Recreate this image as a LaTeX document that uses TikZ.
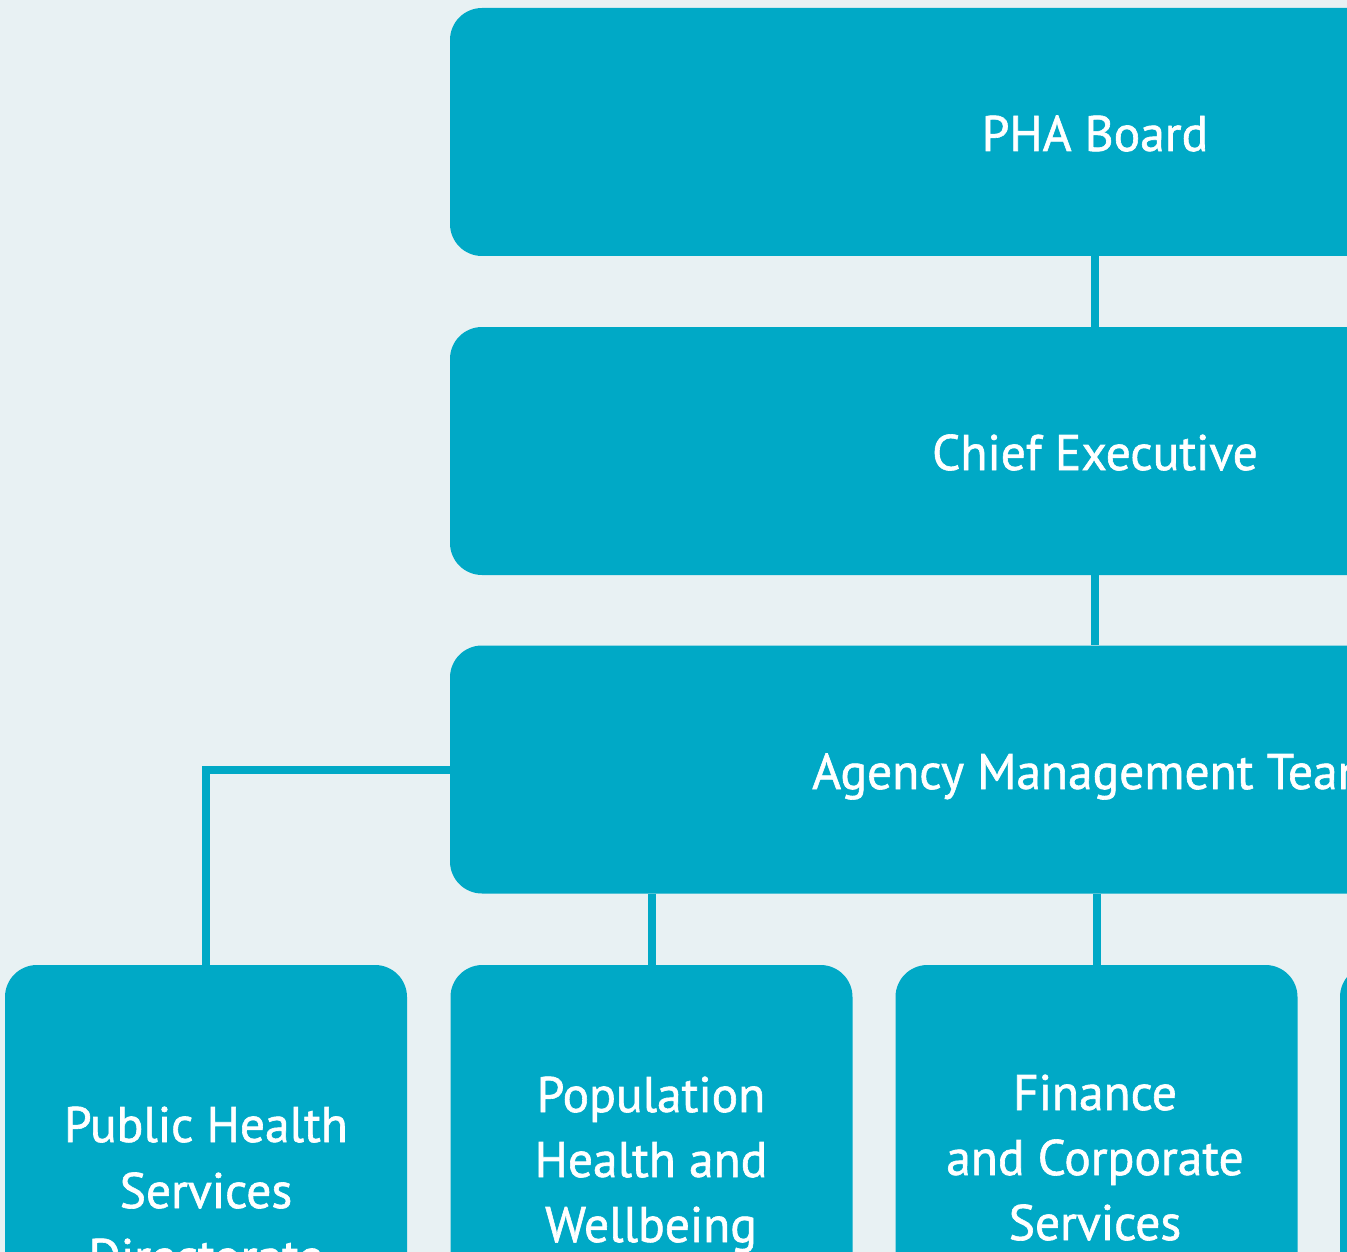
\documentclass[tikz,border=0pt]{standalone}
\usepackage{fontspec}
\setmainfont{PT Sans}[FakeStretch=0.99,FakeBold=1.2]
\definecolor{boxblue}{HTML}{00A9C6}
\definecolor{bgc}{HTML}{E8F1F3}
\begin{document}
\begin{tikzpicture}[x=1pt,y=-1pt,
  orgbox/.style={rectangle, fill=boxblue, draw=none, rounded corners=32pt,
                 inner sep=0pt, minimum width=#1},
  wide/.style={orgbox=1290pt, minimum height=248pt},
  unit/.style={orgbox=402pt, minimum height=540pt},
  lbl/.style={text=white, anchor=base, inner sep=0pt,
              font=\fontsize{50}{66}\selectfont},
  link/.style={draw=boxblue, line width=8pt}]
\useasboundingbox (0,0) rectangle (1347,1252);
\clip (0,0) rectangle (1347,1252);
\fill[bgc] (0,0) rectangle (1347,1252);

% main boxes
\node[wide] (board) at (1095,132) {};
\node[wide] (ceo)   at (1095,451) {};
\node[wide] (amt)   at (1095,769.5) {};

% directorate boxes
\node[unit] (phs) at (206,1235) {};
\node[unit] (phw) at (651.5,1235) {};
\node[unit] (fcs) at (1096.5,1235) {};
\node[unit] (nxt) at (1541,1235) {};

% connectors
\draw[link] (board.south) -- (ceo.north);
\draw[link] (ceo.south) -- (amt.north);
\draw[link] (amt.west) -| (phs.north);
\draw[link] (phw.north |- amt.south) -- (phw.north);
\draw[link] (fcs.north |- amt.south) -- (fcs.north);

% labels
\node[lbl] (tboard) at (1095,151) {PHA Board};
\node[lbl] (tceo)   at (1095,470) {Chief Executive};
\node[lbl] (tamt)   at (1095,789) {Agency Management Team};

\node[lbl] (tphs1) at (206,1142) {Public Health};
\node[lbl] (tphs2) at (206,1208) {Services};
\node[lbl] (tphs3) at (206,1274) {Directorate};

\node[lbl] (tphw1) at (651,1112) {Population};
\node[lbl] (tphw2) at (651,1177) {Health and};
\node[lbl] (tphw3) at (651,1242) {Wellbeing};

\node[lbl] (tfcs1) at (1095,1110) {Finance};
\node[lbl] (tfcs2) at (1095,1175) {and Corporate};
\node[lbl] (tfcs3) at (1095,1240) {Services};
\end{tikzpicture}
\end{document}
